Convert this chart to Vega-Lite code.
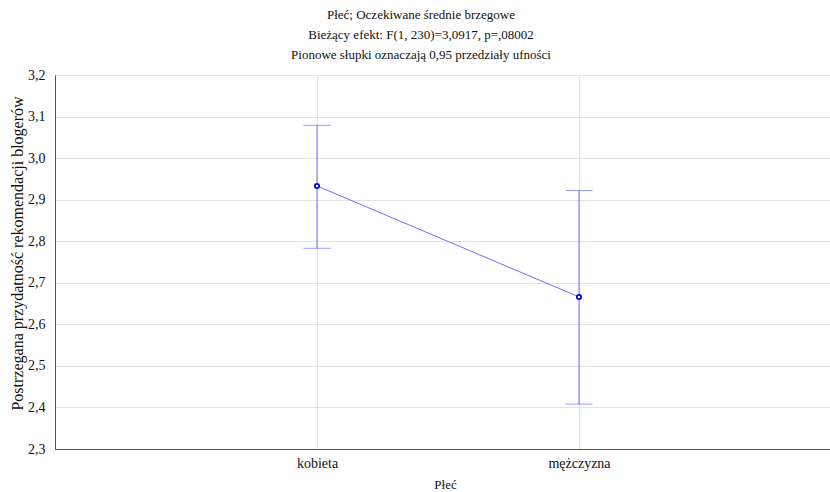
{
  "$schema": "https://vega.github.io/schema/vega-lite/v6.json",
  "autosize": {"type": "none"},
  "padding": {"left": 55, "top": 75, "right": 0, "bottom": 43},
  "width": 786,
  "height": 374,
  "background": "white",
  "config": {
    "font": "Liberation Serif",
    "view": {"stroke": "#555555", "strokeWidth": 1},
    "axis": {"labelFont": "Liberation Serif", "titleFont": "Liberation Serif", "labelColor": "#111", "titleColor": "#111", "titleFontWeight": "normal"}
  },
  "title": {
    "text": ["Płeć; Oczekiwane średnie brzegowe", "Bieżący efekt: F(1, 230)=3,0917, p=,08002", "Pionowe słupki oznaczają 0,95 przedziały ufności"],
    "font": "Liberation Serif",
    "fontSize": 13,
    "fontWeight": "normal",
    "color": "#111",
    "lineHeight": 20,
    "anchor": "middle",
    "frame": "group",
    "dx": -27,
    "offset": 6
  },
  "data": {
    "values": [
      {"plec": "kobieta", "mean": 2.933, "lo": 2.783, "hi": 3.079},
      {"plec": "mężczyzna", "mean": 2.666, "lo": 2.408, "hi": 2.922}
    ]
  },
  "encoding": {
    "x": {
      "field": "plec", "type": "nominal", "sort": null,
      "scale": {"type": "point", "padding": 1},
      "axis": {
        "title": "Płeć", "titleFontSize": 13, "labelFontSize": 14, "labelAngle": 0,
        "ticks": false, "labelPadding": 7, "titleX": 390, "titleY": 35, "titleBaseline": "middle",
        "grid": true, "gridColor": "#e3e3e3", "domainColor": "#555555"
      }
    }
  },
  "layer": [
    {
      "mark": {"type": "rule", "color": "#6f6fff", "strokeWidth": 1},
      "encoding": {
        "y": {
          "field": "lo", "type": "quantitative",
          "scale": {"domain": [2.3, 3.2], "nice": false, "zero": false},
          "axis": {
            "title": "Postrzegana przydatność rekomendacji blogerów",
            "titleFontSize": 16, "labelFontSize": 14,
            "values": [2.3, 2.4, 2.5, 2.6, 2.7, 2.8, 2.9, 3.0, 3.1, 3.2],
            "labelExpr": "replace(format(datum.value, '.1f'), '.', ',')",
            "ticks": false, "labelPadding": 10,
            "titleX": -38, "titleY": 178, "titleAngle": -90, "titleAlign": "center", "titleBaseline": "middle",
            "grid": true, "gridColor": "#e3e3e3", "domainColor": "#555555"
          }
        },
        "y2": {"field": "hi"}
      }
    },
    {
      "mark": {"type": "tick", "color": "#6f6fff", "thickness": 1, "size": 27, "orient": "horizontal"},
      "encoding": {"y": {"field": "lo", "type": "quantitative"}}
    },
    {
      "mark": {"type": "tick", "color": "#6f6fff", "thickness": 1, "size": 27, "orient": "horizontal"},
      "encoding": {"y": {"field": "hi", "type": "quantitative"}}
    },
    {
      "mark": {"type": "line", "color": "#6f6fff", "strokeWidth": 1},
      "encoding": {"y": {"field": "mean", "type": "quantitative"}}
    },
    {
      "mark": {"type": "point", "filled": false, "fill": "white", "fillOpacity": 1, "stroke": "#0000ee", "strokeWidth": 1.8, "size": 18, "opacity": 1},
      "encoding": {"y": {"field": "mean", "type": "quantitative"}}
    }
  ]
}
